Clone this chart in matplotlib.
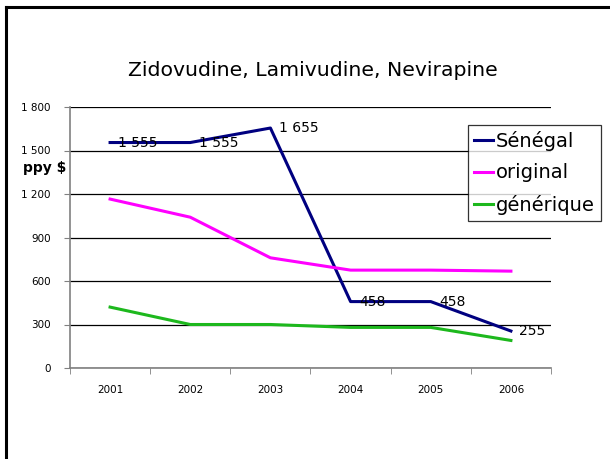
import numpy as np
import matplotlib
matplotlib.use("Agg")
import matplotlib.pyplot as plt
from matplotlib.lines import Line2D
from matplotlib.ticker import FuncFormatter

# données
years = ["2001", "2002", "2003", "2004", "2005", "2006"]
senegal = [1555, 1555, 1655, 458, 458, 255]
original = [1165, 1040, 760, 675, 675, 668]
generique = [420, 300, 300, 280, 280, 190]
yticks = [0, 300, 600, 900, 1200, 1500, 1800]

W, H = 610, 459
fig = plt.figure(figsize=(6.1, 4.59), dpi=100)
ax = fig.add_axes([70 / W, 1 - 368 / H, (551 - 70) / W, (368 - 107) / H])

x = np.arange(len(years))
ax.plot(x, senegal, color="#000080", lw=2.2, label="Sénégal")
ax.plot(x, original, color="#FF00FF", lw=2.2, label="original")
ax.plot(x, generique, color="#1DB81D", lw=2.2, label="générique")

def fmt(v, pos=None):
    return f"{int(v):,}".replace(",", " ")

for xi, v in zip(x, senegal):
    ax.annotate(fmt(v), (xi, v), xytext=(6, 0), textcoords="offset points",
                va="center", ha="left", fontsize=10)

ax.set_xlim(-0.5, len(years) - 0.5)
ax.set_ylim(0, 1800)
ax.set_yticks(yticks)
ax.yaxis.set_major_formatter(FuncFormatter(fmt))
ax.set_xticks(x)
ax.set_xticklabels(years)
ax.set_xticks(np.arange(-0.5, len(years)), minor=True)
ax.tick_params(axis="x", which="major", length=0, labelsize=7.5, pad=12)
ax.tick_params(axis="x", which="minor", length=4, color="#808080", direction="out")
ax.tick_params(axis="y", length=4, color="#808080", labelsize=7.5, pad=10)
ax.grid(axis="y", color="black", lw=0.9)
ax.set_axisbelow(True)
for s in ["top", "right"]:
    ax.spines[s].set_visible(False)
for s in ["left", "bottom"]:
    ax.spines[s].set_color("#808080")
    ax.spines[s].set_linewidth(1.2)

fig.text(313 / W, 1 - 70 / H, "Zidovudine, Lamivudine, Nevirapine",
         ha="center", va="center", fontsize=14.7)
fig.text(45 / W, 1 - 168 / H, "ppy $", ha="center", va="center",
         fontsize=10, fontweight="bold")

leg = ax.legend(loc="upper left", bbox_to_anchor=(468 / W, 1 - 125 / H),
                bbox_transform=fig.transFigure, fontsize=14, frameon=True,
                fancybox=False, handlelength=1.0, handletextpad=0.15,
                borderpad=0.3, labelspacing=0.65, borderaxespad=0)
leg.get_frame().set_edgecolor("black")
leg.get_frame().set_linewidth(0.9)

# cadre
fig.add_artist(Line2D([6 / W, 1], [1 - 7 / H, 1 - 7 / H], color="black", lw=2.2,
                      transform=fig.transFigure))
fig.add_artist(Line2D([6 / W, 6 / W], [0, 1 - 7 / H], color="black", lw=2.2,
                      transform=fig.transFigure))

fig.savefig("out.png", dpi=100)
